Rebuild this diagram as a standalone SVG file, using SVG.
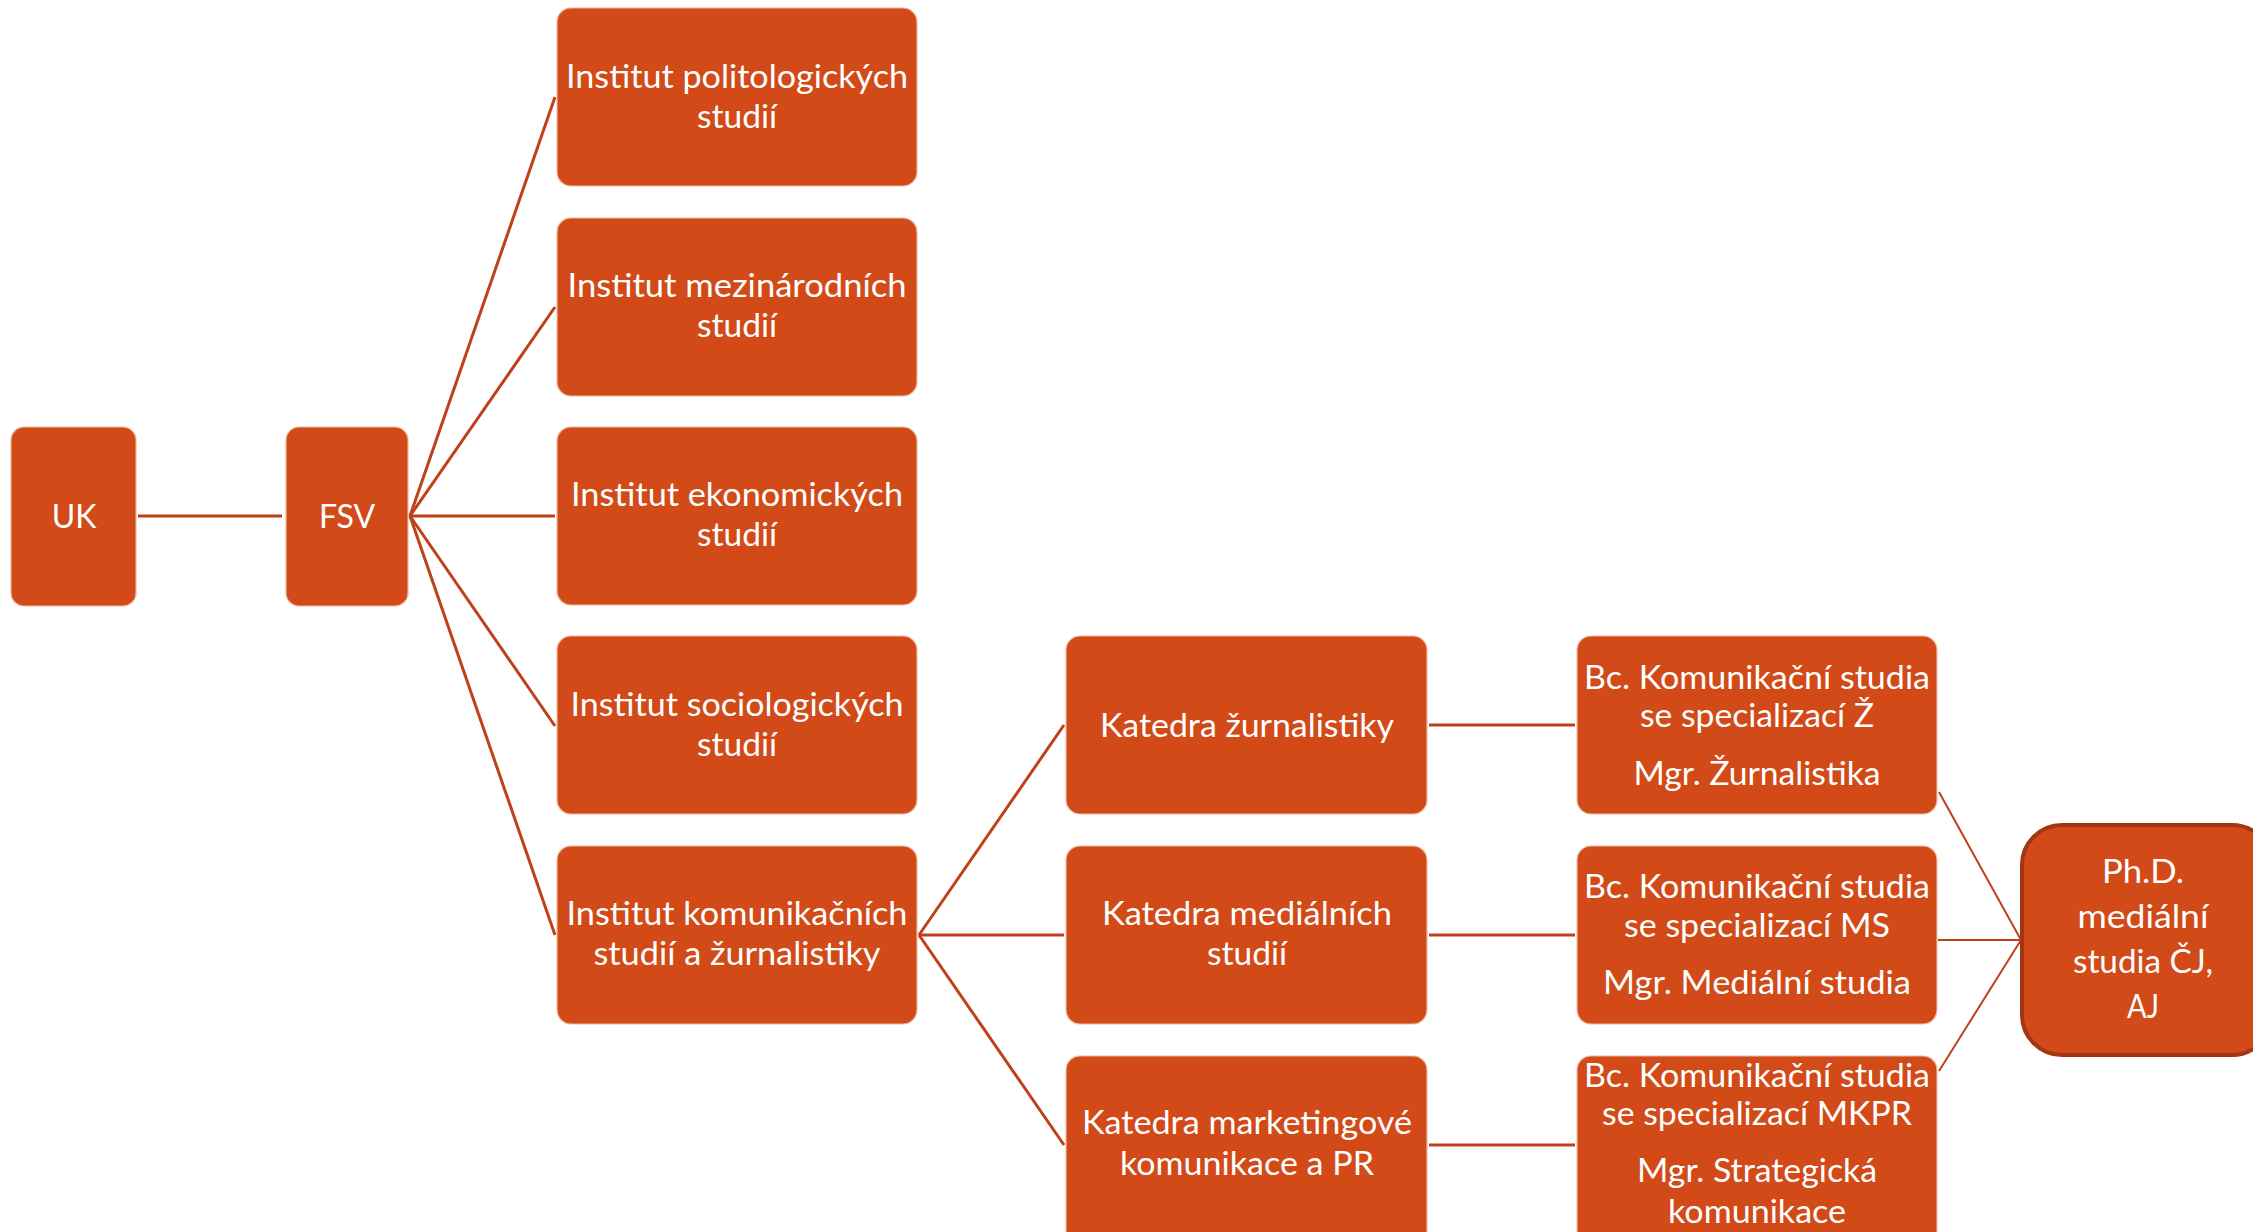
<svg xmlns="http://www.w3.org/2000/svg" width="2253" height="1232" viewBox="0 0 2253 1232">
<style>
.box{fill:#D24A18;stroke:#F2B9A0;stroke-width:1.2}
.phd{fill:#D24A18;stroke:#A33612;stroke-width:4}
.t{font-family:Lato,"Open Sans","Noto Sans",sans-serif;font-size:32px;fill:#FFFFFF;text-anchor:middle}
.c line{stroke:#BE4119;stroke-width:3;fill:none}
.c line.thin{stroke-width:2}
</style>
<rect width="2253" height="1232" fill="#FFFFFF"/>
<g class="c" id="connectors">
<line x1="138" y1="516" x2="282" y2="516"/>
<line x1="410" y1="516" x2="555" y2="97"/>
<line x1="410" y1="516" x2="555" y2="307"/>
<line x1="410" y1="516" x2="555" y2="516"/>
<line x1="410" y1="516" x2="555" y2="726"/>
<line x1="410" y1="516" x2="555" y2="935"/>
<line x1="919" y1="935" x2="1064" y2="725"/>
<line x1="919" y1="935" x2="1064" y2="935"/>
<line x1="919" y1="935" x2="1064" y2="1145"/>
<line x1="1429" y1="725" x2="1575" y2="725"/>
<line x1="1429" y1="935" x2="1575" y2="935"/>
<line x1="1429" y1="1145" x2="1575" y2="1145"/>
<line class="thin" x1="1939" y1="792" x2="2021" y2="940"/>
<line class="thin" x1="1938" y1="940" x2="2021" y2="940"/>
<line class="thin" x1="1939" y1="1071" x2="2021" y2="940"/>
</g>
<g id="uk"><rect class="box" x="11" y="427" width="125" height="179" rx="13"/><text class="t" x="74" y="528">UK</text></g>
<g id="fsv"><rect class="box" x="286" y="427" width="122" height="179" rx="13"/><text class="t" x="347" y="528">FSV</text></g>
<g id="ips"><rect class="box" x="557" y="8" width="360" height="178" rx="14"/>
<text class="t" x="737" y="88" textLength="342" lengthAdjust="spacingAndGlyphs">Institut politologických</text>
<text class="t" x="737" y="128" textLength="80" lengthAdjust="spacingAndGlyphs">studií</text></g>
<g id="ims"><rect class="box" x="557" y="218" width="360" height="178" rx="14"/>
<text class="t" x="737" y="297" textLength="339" lengthAdjust="spacingAndGlyphs">Institut mezinárodních</text>
<text class="t" x="737" y="337" textLength="80" lengthAdjust="spacingAndGlyphs">studií</text></g>
<g id="ies"><rect class="box" x="557" y="427" width="360" height="178" rx="14"/>
<text class="t" x="737" y="506" textLength="332" lengthAdjust="spacingAndGlyphs">Institut ekonomických</text>
<text class="t" x="737" y="546" textLength="80" lengthAdjust="spacingAndGlyphs">studií</text></g>
<g id="iss"><rect class="box" x="557" y="636" width="360" height="178" rx="14"/>
<text class="t" x="737" y="716" textLength="333" lengthAdjust="spacingAndGlyphs">Institut sociologických</text>
<text class="t" x="737" y="756" textLength="80" lengthAdjust="spacingAndGlyphs">studií</text></g>
<g id="iksz"><rect class="box" x="557" y="846" width="360" height="178" rx="14"/>
<text class="t" x="737" y="925" textLength="341" lengthAdjust="spacingAndGlyphs">Institut komunikačních</text>
<text class="t" x="737" y="965" textLength="287" lengthAdjust="spacingAndGlyphs">studií a žurnalistiky</text></g>
<g id="kz"><rect class="box" x="1066" y="636" width="361" height="178" rx="14"/>
<text class="t" x="1247" y="737" textLength="294" lengthAdjust="spacingAndGlyphs">Katedra žurnalistiky</text></g>
<g id="kms"><rect class="box" x="1066" y="846" width="361" height="178" rx="14"/>
<text class="t" x="1247" y="925" textLength="290" lengthAdjust="spacingAndGlyphs">Katedra mediálních</text>
<text class="t" x="1247" y="965" textLength="80" lengthAdjust="spacingAndGlyphs">studií</text></g>
<g id="kmk"><rect class="box" x="1066" y="1056" width="361" height="190" rx="14"/>
<text class="t" x="1247" y="1134" textLength="330" lengthAdjust="spacingAndGlyphs">Katedra marketingové</text>
<text class="t" x="1247" y="1175" textLength="254" lengthAdjust="spacingAndGlyphs">komunikace a PR</text></g>
<g id="bcz"><rect class="box" x="1577" y="636" width="360" height="178" rx="14"/>
<text class="t" x="1757" y="689" textLength="346" lengthAdjust="spacingAndGlyphs">Bc. Komunikační studia</text>
<text class="t" x="1757" y="727" textLength="234" lengthAdjust="spacingAndGlyphs">se specializací Ž</text>
<text class="t" x="1757" y="785" textLength="247" lengthAdjust="spacingAndGlyphs">Mgr. Žurnalistika</text></g>
<g id="bcms"><rect class="box" x="1577" y="846" width="360" height="178" rx="14"/>
<text class="t" x="1757" y="898" textLength="346" lengthAdjust="spacingAndGlyphs">Bc. Komunikační studia</text>
<text class="t" x="1757" y="937" textLength="266" lengthAdjust="spacingAndGlyphs">se specializací MS</text>
<text class="t" x="1757" y="994" textLength="308" lengthAdjust="spacingAndGlyphs">Mgr. Mediální studia</text></g>
<g id="bcmk"><rect class="box" x="1577" y="1056" width="360" height="190" rx="14"/>
<text class="t" x="1757" y="1087" textLength="346" lengthAdjust="spacingAndGlyphs">Bc. Komunikační studia</text>
<text class="t" x="1757" y="1125" textLength="310" lengthAdjust="spacingAndGlyphs">se specializací MKPR</text>
<text class="t" x="1757" y="1182" textLength="240" lengthAdjust="spacingAndGlyphs">Mgr. Strategická</text>
<text class="t" x="1757" y="1223" textLength="178" lengthAdjust="spacingAndGlyphs">komunikace</text></g>
<g id="phd"><rect class="phd" x="2022" y="825" width="250" height="230" rx="40"/>
<text class="t" x="2143" y="883" textLength="82" lengthAdjust="spacingAndGlyphs">Ph.D.</text>
<text class="t" x="2143" y="928" textLength="131" lengthAdjust="spacingAndGlyphs">mediální</text>
<text class="t" x="2143" y="973" textLength="140" lengthAdjust="spacingAndGlyphs">studia ČJ,</text>
<text class="t" x="2143" y="1018" textLength="32" lengthAdjust="spacingAndGlyphs">AJ</text></g>
</svg>
